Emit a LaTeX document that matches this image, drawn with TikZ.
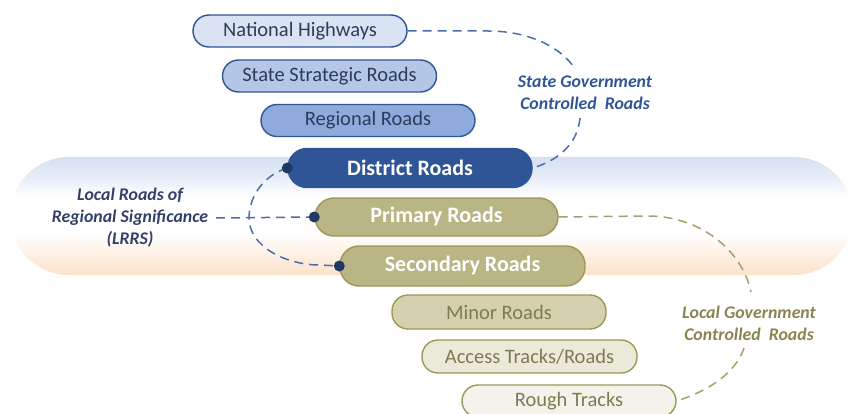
\documentclass[tikz,border=0pt]{standalone}
\usepackage{fontspec}
\setmainfont{Carlito}
\usetikzlibrary{calc}
\definecolor{bandblue}{HTML}{D5E0F1}
\definecolor{bandpeach}{HTML}{FCE2CA}
\definecolor{bborder}{HTML}{2F5597}
\definecolor{btext}{HTML}{2E3C58}
\definecolor{nhfill}{HTML}{DAE3F3}
\definecolor{ssfill}{HTML}{B4C7E7}
\definecolor{rgfill}{HTML}{8FAADC}
\definecolor{drfill}{HTML}{2F5597}
\definecolor{oborder}{HTML}{9D975A}
\definecolor{ofill}{HTML}{B9B585}
\definecolor{mrfill}{HTML}{D5D1AE}
\definecolor{acfill}{HTML}{EBE9DA}
\definecolor{rtfill}{HTML}{F4F3EB}
\definecolor{otext}{HTML}{7E7A52}
\definecolor{bdashc}{HTML}{4A6DAE}
\definecolor{odashc}{HTML}{A6A065}
\definecolor{dotc}{HTML}{1F3864}
\definecolor{lrrsc}{HTML}{34406A}
\definecolor{lgc}{HTML}{8A8450}
\pgfdeclareverticalshading{bandshade}{100bp}{color(0bp)=(bandpeach); color(25bp)=(bandpeach); color(35bp)=(bandpeach!45!white); color(43bp)=(white); color(58bp)=(white); color(66bp)=(bandblue!55!white); color(75bp)=(bandblue); color(100bp)=(bandblue)}
\tikzset{
  pill/.style={draw, line width=1.4pt, rounded corners=16pt, minimum width=214pt, minimum height=32pt, inner sep=0pt, font=\fontsize{20.5}{22}\selectfont},
  bluepill/.style={pill, draw=bborder, text=btext},
  bigpill/.style={pill, rounded corners=19pt, minimum width=244pt, minimum height=39pt, font=\fontsize{22}{24}\selectfont\bfseries, text=white},
  olivepill/.style={pill, draw=oborder, text=otext},
  lbl/.style={align=center, font=\fontsize{17.8}{22}\selectfont\bfseries\itshape},
  bdash/.style={draw=bdashc, line width=1.5pt, dash pattern=on 9pt off 6pt},
  odash/.style={draw=odashc, line width=1.5pt, dash pattern=on 9pt off 6pt},
  endot/.style={circle, fill=dotc, minimum size=11pt, inner sep=0pt}
}
\begin{document}
\begin{tikzpicture}[x=1pt,y=-1pt]
\useasboundingbox (0,0) rectangle (856,414);
% background band
\shade[shading=bandshade, rounded corners=59pt] (10,157) rectangle (853,275);
% pills
\node[bluepill, fill=nhfill] (nh) at (300,31) {National Highways};
\node[bluepill, fill=ssfill] (ss) at (329.5,76) {State Strategic Roads};
\node[bluepill, fill=rgfill] (rg) at (368,120.5) {Regional Roads};
\node[bigpill, draw=bborder, fill=drfill] (dr) at (410,168) {District Roads};
\node[bigpill, draw=oborder, fill=ofill, minimum width=243pt, minimum height=38pt] (pr) at (436.5,217) {Primary Roads};
\node[bigpill, draw=oborder, fill=ofill, minimum width=245pt, minimum height=40pt] (sr) at (462.5,266) {Secondary Roads};
\node[olivepill, fill=mrfill, minimum height=34pt] (mr) at (499,312) {Minor Roads};
\node[olivepill, fill=acfill, minimum width=215pt, minimum height=33pt] (ac) at (529.5,356.5) {Access Tracks/Roads};
\node[olivepill, fill=rtfill] (rt) at (569,401) {Rough Tracks};
% labels
\node[lbl, text=bborder] (sg) at (585,93) {State Government\\Controlled\ \ Roads};
\node[lbl, text=lrrsc] (lr) at (130,218) {Local Roads of\\Regional Significance\\(LRRS)};
\node[lbl, text=lgc] (lg) at (749,323) {Local Government\\Controlled\ \ Roads};
% state government connector
\coordinate (sgA) at (575,69);
\coordinate (sgB) at (580,118);
\draw[bdash] (nh.east) -- (488,31) .. controls (530,31) and (562,48) .. (sgA);
\draw[bdash] (sgB) .. controls (578,142) and (560,160) .. (dr.east);
% LRRS connector
\coordinate (lrE) at (216,218);
\coordinate (lrM) at (249,218);
\draw[bdash] (lrE) -- (pr.west);
\draw[bdash] (dr.west) .. controls (262,176) and (249,198) .. (lrM) .. controls (249,246) and (285,265) .. (320,265) -- (sr.west);
\node[endot] (d1) at (dr.west) {};
\node[endot] (d2) at (pr.west) {};
\node[endot] (d3) at (sr.west) {};
% local government connector
\coordinate (lgA) at (751,292);
\coordinate (lgB) at (744,348);
\draw[odash] (pr.east) -- (648,216) .. controls (700,216) and (742,250) .. (lgA);
\draw[odash] (lgB) .. controls (735,375) and (705,392) .. (rt.east);
\end{tikzpicture}
\end{document}
